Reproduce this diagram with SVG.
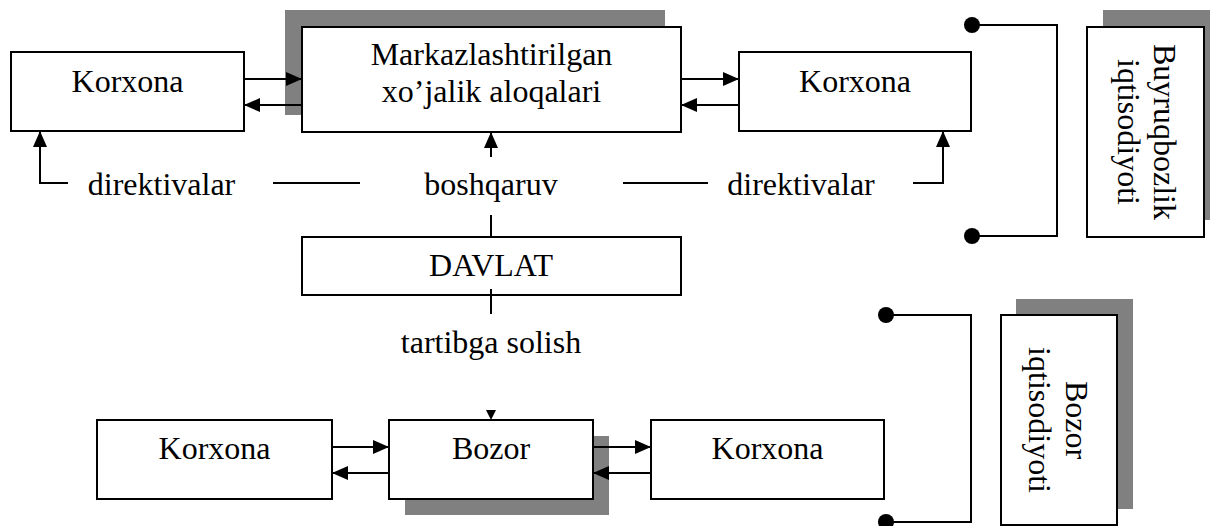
<svg xmlns="http://www.w3.org/2000/svg" width="1210" height="526" viewBox="0 0 1210 526">
<style>
.box{fill:#fff;stroke:#000;stroke-width:2}
.shadow{fill:#808080;stroke:none}
.t{font-family:"Liberation Serif","Times New Roman",serif;font-size:32px;fill:#000;text-anchor:middle}
.ln{fill:none;stroke:#000;stroke-width:2}
.arr{marker-end:url(#ah)}
.dot{fill:#000}
</style>
<defs>
<marker id="ah" viewBox="0 0 16 14" refX="16" refY="7" markerWidth="16" markerHeight="14" markerUnits="userSpaceOnUse" orient="auto">
<path d="M0,0 L16,7 L0,14 z" fill="#000"/>
</marker>
</defs>
<g id="korxona-top-left">
<rect class="box" x="11" y="52" width="233" height="79"/>
<text class="t" x="127.5" y="92">Korxona</text>
</g>
<g id="markaz">
<rect class="shadow" x="285" y="10" width="380" height="105"/>
<rect class="box" x="302" y="27" width="379" height="105"/>
<text class="t" x="491.5" y="65">Markazlashtirilgan</text>
<text class="t" x="491.5" y="102">xo’jalik aloqalari</text>
</g>
<g id="korxona-top-right">
<rect class="box" x="739" y="52" width="232" height="79"/>
<text class="t" x="855" y="92">Korxona</text>
</g>
<g id="davlat">
<rect class="box" x="302" y="237" width="379" height="58"/>
<text class="t" x="491" y="276">DAVLAT</text>
</g>
<g id="buyruqbozlik">
<rect class="shadow" x="1103" y="10" width="117" height="210"/>
<rect class="box" x="1087" y="27" width="117" height="210"/>
<g transform="translate(1145.5,132) rotate(90)">
<text class="t" x="0" y="-8">Buyruqbozlik</text>
<text class="t" x="0" y="28">iqtisodiyoti</text>
</g>
</g>
<g id="bozor-iqtisodiyoti">
<rect class="shadow" x="1016" y="299" width="117" height="210"/>
<rect class="box" x="1001" y="315" width="116" height="210"/>
<g transform="translate(1059,420) rotate(90)">
<text class="t" x="0" y="-7">Bozor</text>
<text class="t" x="0" y="30">iqtisodiyoti</text>
</g>
</g>
<g id="korxona-bottom-left">
<rect class="box" x="97" y="420" width="235" height="79"/>
<text class="t" x="214.5" y="459">Korxona</text>
</g>
<g id="bozor">
<rect class="shadow" x="405" y="436" width="204" height="79"/>
<rect class="box" x="389" y="420" width="204" height="79"/>
<text class="t" x="491" y="459">Bozor</text>
</g>
<g id="korxona-bottom-right">
<rect class="box" x="651" y="420" width="233" height="79"/>
<text class="t" x="767.5" y="459">Korxona</text>
</g>
<g id="labels">
<text class="t" x="161.5" y="195">direktivalar</text>
<text class="t" x="491" y="195">boshqaruv</text>
<text class="t" x="801" y="195">direktivalar</text>
<text class="t" x="491" y="353">tartibga solish</text>
</g>
<g id="connectors">
<path class="ln arr" d="M244,79 H302"/>
<path class="ln arr" d="M302,105 H244"/>
<path class="ln arr" d="M681,79 H739"/>
<path class="ln arr" d="M739,105 H681"/>
<path class="ln arr" d="M491,157 V132"/>
<path class="ln arr" d="M68,183 H40 V131"/>
<path class="ln" d="M273,183 H360"/>
<path class="ln" d="M623,183 H708"/>
<path class="ln arr" d="M913,183 H943 V131"/>
<path class="ln" d="M491,215 V237"/>
<path class="ln" d="M491,289 V314"/>
<path d="M486,410 L496,410 L491,420 z" fill="#000"/>
<path class="ln arr" d="M332,447 H389"/>
<path class="ln arr" d="M389,473 H332"/>
<path class="ln arr" d="M593,447 H651"/>
<path class="ln arr" d="M651,473 H593"/>
<path class="ln" d="M972,25 H1057 V236 H972"/>
<circle class="dot" cx="972" cy="25" r="8"/>
<circle class="dot" cx="972" cy="236" r="8"/>
<path class="ln" d="M886,315 H971 V522 H886"/>
<circle class="dot" cx="886" cy="315" r="8"/>
<circle class="dot" cx="886" cy="522" r="8"/>
</g>
</svg>
